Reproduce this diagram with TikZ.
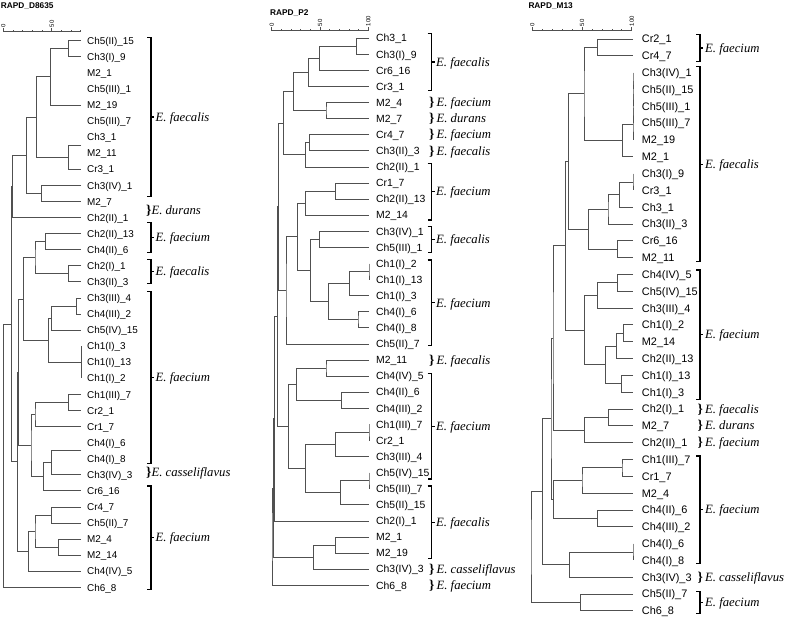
\documentclass[tikz,border=0pt]{standalone}
\usepackage{fontspec}
\setmainfont{Liberation Serif}
\setsansfont{Liberation Sans}
\usetikzlibrary{calc}
\definecolor{TreeGray}{RGB}{80,80,80}
\tikzset{
  treeline/.style={draw=TreeGray,line width=0.9pt},
  scaleline/.style={draw=TreeGray,line width=0.6pt},
  bracketline/.style={draw=black,line width=1.1pt},
  leaflab/.style={anchor=base west,inner sep=0pt,font=\sffamily\fontsize{#1}{#1}\selectfont},
  species/.style={anchor=base west,inner sep=0pt,font=\itshape\fontsize{12.7}{13}\selectfont},
  scalelab/.style={rotate=90,anchor=west,inner sep=0pt,font=\sffamily\fontsize{6}{6}\selectfont},
  paneltitle/.style={anchor=west,inner sep=0pt,font=\sffamily\bfseries\fontsize{8.3}{9}\selectfont}
}
\newcommand{\brc}{{\upshape\bfseries\fontsize{13.5}{14}\selectfont\}}}
% join two children at distance x
\newcommand{\clade}[4]{%
  \path let \p1=($(#3)!.5!(#4)$) in coordinate (#1) at (#2pt,\y1);%
  \draw[treeline] (#3) -| (#1) |- (#4);}
\begin{document}
\begin{tikzpicture}[x=1pt,y=-1pt]
\useasboundingbox (0,0) rectangle (788,620);

% ---------- RAPD_D8635 ----------
\node[paneltitle] (dtitle) at (0.7,5.7) {RAPD\_D8635};
\draw[scaleline] (3.3,31.7) -- (80.7,31.7);
\foreach \k in {0,...,8} \draw[scaleline] ({3.3+9.68*\k},31.7) -- ++(0,-2);
\draw[scaleline] (3.3,31.7) -- ++(0,-4);
\draw[scaleline] (51.7,31.7) -- ++(0,-4);
\node[scalelab] (dsc0) at (3.3,27.5) {0};
\node[scalelab] (dsc50) at (51.7,27.5) {50};
\foreach \lab [count=\i] in {Ch5(II)\_15,Ch3(I)\_9,M2\_1,Ch5(III)\_1,M2\_19,Ch5(III)\_7,Ch3\_1,M2\_11,Cr3\_1,Ch3(IV)\_1,M2\_7,Ch2(II)\_1,Ch2(II)\_13,Ch4(II)\_6,Ch2(I)\_1,Ch3(II)\_3,Ch3(III)\_4,Ch4(III)\_2,Ch5(IV)\_15,Ch1(I)\_3,Ch1(I)\_13,Ch1(I)\_2,Ch1(III)\_7,Cr2\_1,Cr1\_7,Ch4(I)\_6,Ch4(I)\_8,Ch3(IV)\_3,Cr6\_16,Cr4\_7,Ch5(II)\_7,M2\_4,M2\_14,Ch4(IV)\_5,Ch6\_8}{
  \coordinate (d\i) at (81,{40.7+16.08*(\i-1)});
  \node[leaflab=9.9] (dlab\i) at (87,{44.3+16.08*(\i-1)}) {\lab};
}
\clade{da}{68.3}{d1}{d2}
\clade{db}{50.7}{da}{d5}
\coordinate (dt78) at ($(d7)!.5!(d8)$);
\clade{dc}{68.3}{dt78}{d9}
\clade{dd}{36.7}{db}{dc}
\clade{de}{41.7}{d10}{d11}
\clade{df}{26.7}{dd}{de}
\clade{dg}{12.3}{df}{d12}
\clade{dh}{45.7}{d13}{d14}
\clade{di}{68.3}{d15}{d16}
\clade{dj}{35}{dh}{di}
\clade{dk}{76.7}{d17}{d18}
\clade{dl}{51.7}{dk}{d19}
\draw[treeline] (d20) -- (d22);
\clade{dm}{48.3}{dl}{d21}
\clade{dn}{23.3}{dj}{dm}
\clade{do}{68.3}{d23}{d24}
\clade{dp}{35}{do}{d25}
\coordinate (dt2627) at ($(d26)!.5!(d27)$);
\clade{dq}{51.7}{dt2627}{d28}
\clade{dr}{43.3}{dq}{d29}
\clade{ds}{31}{dp}{dr}
\clade{dt}{18.7}{dn}{ds}
\clade{du}{51.7}{d30}{d31}
\clade{dv}{58.3}{d32}{d33}
\clade{dw}{35}{du}{dv}
\clade{dx}{28.3}{dw}{d34}
\clade{dy}{17.7}{dt}{dx}
\clade{dz}{11.7}{dg}{dy}
\clade{droot}{3.3}{dz}{d35}
\foreach \t/\b/\lab [count=\j] in {37.3/196.7/faecalis,222.7/252.7/faecium,259.3/283.3/faecalis,291.7/463.3/faecium,486/589.3/faecium}{
  \draw[bracketline] (147,\t) -- (151,\t) -- (151,\b) -- (147,\b);
  \draw[bracketline] (151,{(\t+\b)/2}) -- (154,{(\t+\b)/2});
  \node[species] (dsp\j) at (155.5,{(\t+\b)/2+4.2}) {E. \lab};
}
\node[species] (dbr1) at (146,214.2) {\brc E. durans};
\node[species] (dbr2) at (146,476.9) {\brc E. casseliflavus};

% ---------- RAPD_P2 ----------
\node[paneltitle] (ptitle) at (270,13.3) {RAPD\_P2};
\draw[scaleline] (271.7,30.7) -- (368.3,30.7);
\foreach \k in {0,...,10} \draw[scaleline] ({271.7+9.66*\k},30.7) -- ++(0,-2);
\foreach \k in {0,5,10} \draw[scaleline] ({271.7+9.66*\k},30.7) -- ++(0,-4);
\node[scalelab] (psc0) at (271.7,26.5) {0};
\node[scalelab] (psc50) at (320,26.5) {50};
\node[scalelab] (psc100) at (368.3,26.5) {100};
\foreach \lab [count=\i] in {Ch3\_1,Ch3(I)\_9,Cr6\_16,Cr3\_1,M2\_4,M2\_7,Cr4\_7,Ch3(II)\_3,Ch2(II)\_1,Cr1\_7,Ch2(II)\_13,M2\_14,Ch3(IV)\_1,Ch5(III)\_1,Ch1(I)\_2,Ch1(I)\_13,Ch1(I)\_3,Ch4(I)\_6,Ch4(I)\_8,Ch5(II)\_7,M2\_11,Ch4(IV)\_5,Ch4(II)\_6,Ch4(III)\_2,Ch1(III)\_7,Cr2\_1,Ch3(III)\_4,Ch5(IV)\_15,Ch5(III)\_7,Ch5(II)\_15,Ch2(I)\_1,M2\_1,M2\_19,Ch3(IV)\_3,Ch6\_8}{
  \coordinate (p\i) at (369,{38.3+16.09*(\i-1)});
  \node[leaflab=10.4] (plab\i) at (376,{42+16.09*(\i-1)}) {\lab};
}
\clade{pa}{356.7}{p1}{p2}
\clade{pb}{319.3}{pa}{p3}
\clade{pc}{308.3}{pb}{p4}
\clade{pd}{326}{p5}{p6}
\clade{pe}{293.7}{pc}{pd}
\clade{pf}{309.3}{p7}{p8}
\clade{pg}{305.3}{pf}{p9}
\clade{ph}{283.7}{pe}{pg}
\clade{pi}{335.3}{p10}{p11}
\clade{pj}{305.3}{pi}{p12}
\clade{pk}{319.3}{p13}{p14}
\clade{pt1}{369}{p15}{p16}
\clade{pl}{349.3}{pt1}{p17}
\clade{pm}{358}{p18}{p19}
\clade{pn}{328.7}{pl}{pm}
\clade{po}{310.3}{pk}{pn}
\clade{pp}{297.7}{pj}{po}
\clade{pq}{286}{pp}{p20}
\clade{pr}{278.3}{ph}{pq}
\clade{ps}{326}{p21}{p22}
\clade{pu}{341.3}{p23}{p24}
\clade{pv}{296.3}{ps}{pu}
\clade{pt2}{369}{p25}{p26}
\clade{pw}{335.3}{pt2}{p27}
\clade{pt3}{369}{p28}{p29}
\clade{px}{340.3}{pt3}{p30}
\clade{py}{305.3}{pw}{px}
\clade{pz}{288.7}{pv}{py}
\clade{pA}{277.7}{pr}{pz}
\clade{pB}{274.7}{pA}{p31}
\clade{pC}{335.3}{p32}{p33}
\clade{pD}{313.7}{pC}{p34}
\clade{pE}{273.7}{pB}{pD}
\clade{proot}{272}{pE}{p35}
\foreach \t/\b/\lab [count=\j] in {33.3/90.7/faecalis,163.3/220/faecium,226.7/252.7/faecalis,260/345.7/faecium,373.3/479/faecium,486/558.3/faecalis}{
  \draw[bracketline] (427.5,\t) -- (431.5,\t) -- (431.5,\b) -- (427.5,\b);
  \draw[bracketline] (431.5,{(\t+\b)/2}) -- (434.5,{(\t+\b)/2});
  \node[species] (psp\j) at (436,{(\t+\b)/2+4.2}) {E. \lab};
}
\foreach \y/\lab [count=\j] in {102.7/faecium,118.8/durans,134.8/faecium,150.9/faecalis,360.1/faecalis,569.3/casseliflavus,585.4/faecium}{
  \node[species] (pbr\j) at (429,{\y+4.2}) {\brc\,E. \lab};
}

% ---------- RAPD_M13 ----------
\node[paneltitle] (mtitle) at (528.3,5.7) {RAPD\_M13};
\draw[scaleline] (532.3,30.7) -- (631.7,30.7);
\foreach \k in {0,...,10} \draw[scaleline] ({532.3+9.94*\k},30.7) -- ++(0,-2);
\foreach \k in {0,5,10} \draw[scaleline] ({532.3+9.94*\k},30.7) -- ++(0,-4);
\node[scalelab] (msc0) at (532.3,26.5) {0};
\node[scalelab] (msc50) at (582,26.5) {50};
\node[scalelab] (msc100) at (631.7,26.5) {100};
\foreach \lab [count=\i] in {Cr2\_1,Cr4\_7,Ch3(IV)\_1,Ch5(II)\_15,Ch5(III)\_1,Ch5(III)\_7,M2\_19,M2\_1,Ch3(I)\_9,Cr3\_1,Ch3\_1,Ch3(II)\_3,Cr6\_16,M2\_11,Ch4(IV)\_5,Ch5(IV)\_15,Ch3(III)\_4,Ch1(I)\_2,M2\_14,Ch2(II)\_13,Ch1(I)\_13,Ch1(I)\_3,Ch2(I)\_1,M2\_7,Ch2(II)\_1,Ch1(III)\_7,Cr1\_7,M2\_4,Ch4(II)\_6,Ch4(III)\_2,Ch4(I)\_6,Ch4(I)\_8,Ch3(IV)\_3,Ch5(II)\_7,Ch6\_8}{
  \coordinate (m\i) at (633,{39+16.82*(\i-1)});
  \node[leaflab=10.9] (mlab\i) at (641.7,{42.9+16.82*(\i-1)}) {\lab};
}
\clade{ma}{597.7}{m1}{m2}
\clade{mt1}{633}{m3}{m4}
\clade{mt2}{633}{mt1}{m5}
\clade{mt3}{633}{mt2}{m6}
\clade{mt4}{633}{mt3}{m7}
\clade{mb}{622.3}{mt4}{m8}
\clade{mc}{584}{ma}{mb}
\clade{mt5}{633}{m9}{m10}
\clade{md}{619.7}{mt5}{m11}
\clade{me}{608}{md}{m12}
\clade{mf}{617.7}{m13}{m14}
\clade{mg}{588.7}{me}{mf}
\clade{mh}{568.7}{mc}{mg}
\clade{mi}{617.7}{m15}{m16}
\clade{mj}{597.7}{mi}{m17}
\clade{mk}{623.7}{m18}{m19}
\clade{ml}{616.3}{mk}{m20}
\clade{mm}{621.3}{m21}{m22}
\clade{mn}{605.3}{ml}{mm}
\clade{mo}{584.3}{mj}{mn}
\clade{mp}{565.3}{mh}{mo}
\clade{mq}{608.7}{m23}{m24}
\clade{mr}{584.3}{mq}{m25}
\clade{ms}{553}{mp}{mr}
\clade{mu}{622}{m26}{m27}
\clade{mv}{582}{mu}{m28}
\clade{mw}{597.7}{m29}{m30}
\clade{mx}{553.7}{mv}{mw}
\clade{my}{551}{ms}{mx}
\clade{mt6}{633}{m31}{m32}
\clade{mz}{569.7}{mt6}{m33}
\clade{mA}{542.7}{my}{mz}
\clade{mB}{580.3}{m34}{m35}
\clade{mroot}{531}{mA}{mB}
\foreach \t/\b/\lab [count=\j] in {34.3/61.7/faecium,66.7/261.7/faecalis,270/399.3/faecium,456/563.3/faecium,591.7/613.3/faecium}{
  \draw[bracketline] (696,\t) -- (700,\t) -- (700,\b) -- (696,\b);
  \draw[bracketline] (700,{(\t+\b)/2}) -- (703,{(\t+\b)/2});
  \node[species] (msp\j) at (705,{(\t+\b)/2+4.2}) {E. \lab};
}
\foreach \y/\lab [count=\j] in {409/faecalis,425.8/durans,442.6/faecium,577.2/casseliflavus}{
  \node[species] (mbr\j) at (697.5,{\y+4.2}) {\brc\,E. \lab};
}
\end{tikzpicture}
\end{document}
